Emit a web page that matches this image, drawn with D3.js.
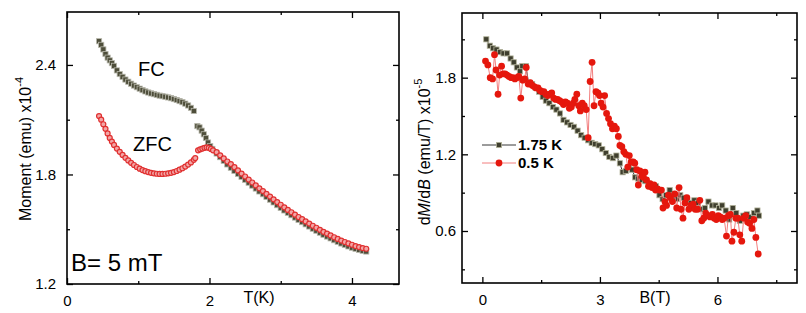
<!DOCTYPE html>
<html lang="en">
<head>
    <title>FC / ZFC and dM/dB</title>
    <meta charset="utf-8"/>
    <script src="https://d3js.org/d3.v7.min.js"></script>
    <style>
        body { margin: 0; background: #fff; }
        text { font-family: "Liberation Sans", Arial, sans-serif; }
        .domain { display: none; }
    </style>
</head>
<body>

<svg width="806" height="313"></svg>

<script type="text/javascript">

    // ---- panel (a): moment vs temperature ----
    const fcT = [0.45, 0.48, 0.51, 0.54, 0.57, 0.60, 0.63, 0.66, 0.70, 0.74, 0.78, 0.82, 0.86, 0.90, 0.94, 0.98,
        1.02, 1.06, 1.10, 1.14, 1.18, 1.22, 1.26, 1.30, 1.34, 1.38, 1.42, 1.46, 1.50, 1.54, 1.58, 1.62, 1.66, 1.70,
        1.74, 1.78, 1.83, 1.86, 1.89, 1.92, 1.95, 1.98, 2.01, 2.04,
        2.10, 2.15, 2.20, 2.25, 2.30, 2.35, 2.40, 2.45, 2.50, 2.55, 2.60, 2.65, 2.70, 2.75, 2.80, 2.85, 2.90, 2.95,
        3.00, 3.05, 3.10, 3.15, 3.20, 3.25, 3.30, 3.35, 3.40, 3.45, 3.50, 3.55, 3.60, 3.65, 3.70, 3.75, 3.80, 3.85,
        3.90, 3.95, 4.00, 4.05, 4.10, 4.15, 4.20];
    const fcM = [2.53, 2.51, 2.485, 2.46, 2.44, 2.425, 2.41, 2.395, 2.37, 2.35, 2.335, 2.32, 2.308, 2.297, 2.287, 2.278,
        2.27, 2.262, 2.255, 2.249, 2.244, 2.240, 2.236, 2.232, 2.229, 2.226, 2.222, 2.218, 2.213, 2.208, 2.202, 2.196,
        2.188, 2.178, 2.165, 2.148, 2.065, 2.058, 2.04, 2.02, 2.00, 1.975, 1.955, 1.94,
        1.915, 1.895, 1.875, 1.855, 1.837, 1.820, 1.803, 1.787, 1.771, 1.755, 1.739, 1.723, 1.707, 1.692, 1.677, 1.662,
        1.647, 1.632, 1.617, 1.603, 1.590, 1.577, 1.564, 1.551, 1.539, 1.527, 1.515, 1.503, 1.492, 1.481, 1.470, 1.460,
        1.450, 1.440, 1.431, 1.422, 1.414, 1.406, 1.399, 1.393, 1.387, 1.382, 1.378];

    const zfcT = [0.45, 0.48, 0.51, 0.54, 0.57, 0.60, 0.63, 0.66, 0.70, 0.74, 0.78, 0.82, 0.86, 0.90, 0.94, 0.98,
        1.02, 1.06, 1.10, 1.14, 1.18, 1.22, 1.26, 1.30, 1.34, 1.38, 1.42, 1.46, 1.50, 1.54, 1.58, 1.62, 1.66, 1.70,
        1.74, 1.78, 1.80, 1.84, 1.87, 1.90, 1.93, 1.96, 1.99, 2.02, 2.05,
        2.10, 2.15, 2.20, 2.25, 2.30, 2.35, 2.40, 2.45, 2.50, 2.55, 2.60, 2.65, 2.70, 2.75, 2.80, 2.85, 2.90, 2.95,
        3.00, 3.05, 3.10, 3.15, 3.20, 3.25, 3.30, 3.35, 3.40, 3.45, 3.50, 3.55, 3.60, 3.65, 3.70, 3.75, 3.80, 3.85,
        3.90, 3.95, 4.00, 4.05, 4.10, 4.15, 4.20];
    const zfcM = [2.12, 2.10, 2.075, 2.05, 2.025, 2.00, 1.98, 1.962, 1.942, 1.924, 1.907, 1.891, 1.877, 1.864, 1.852,
        1.841, 1.832, 1.824, 1.818, 1.813, 1.809, 1.806, 1.804, 1.803, 1.803, 1.804, 1.806, 1.809, 1.813, 1.819, 1.826,
        1.834, 1.843, 1.854, 1.866, 1.880, 1.89, 1.932, 1.938, 1.942, 1.946, 1.948, 1.946, 1.940, 1.932,
        1.922, 1.905, 1.888, 1.871, 1.857, 1.840, 1.822, 1.805, 1.789, 1.772, 1.756, 1.740, 1.724, 1.709, 1.694, 1.679,
        1.664, 1.649, 1.634, 1.620, 1.606, 1.593, 1.580, 1.567, 1.555, 1.543, 1.531, 1.519, 1.508, 1.497, 1.486, 1.476,
        1.466, 1.456, 1.447, 1.438, 1.430, 1.422, 1.415, 1.408, 1.402, 1.397, 1.393];

    const tTicks = [0, 2, 4], tMinor = [1, 3];
    const mTicks = [1.2, 1.8, 2.4], mMinor = [1.5, 2.1];

    // ---- panel (b): dM/dB vs field ----
    const b175 = [0.10, 0.19, 0.27, 0.36, 0.45, 0.54, 0.63, 0.72, 0.80, 0.88, 0.96, 1.02, 1.11, 1.18, 1.27, 1.36,
        1.45, 1.54, 1.62, 1.71, 1.80, 1.89, 1.98, 2.07, 2.16, 2.25, 2.34, 2.43, 2.52, 2.61, 2.70, 2.79, 2.88, 2.97,
        3.06, 3.15, 3.24, 3.33, 3.42, 3.51, 3.58, 3.66, 3.74, 3.82, 3.90, 3.98, 4.07, 4.16, 4.25, 4.34, 4.43, 4.52,
        4.60, 4.69, 4.78, 4.87, 4.96, 5.05, 5.14, 5.23, 5.32, 5.41, 5.50, 5.59, 5.68, 5.77, 5.86, 5.95, 6.04, 6.12,
        6.21, 6.30, 6.39, 6.48, 6.57, 6.66, 6.75, 6.84, 6.93, 7.02, 7.06];
    const d175 = [2.10, 2.05, 2.03, 2.02, 2.00, 1.99, 1.99, 1.95, 1.92, 1.88, 1.85, 1.89, 1.89, 1.76, 1.75, 1.72,
        1.69, 1.65, 1.62, 1.60, 1.57, 1.55, 1.52, 1.47, 1.45, 1.43, 1.415, 1.385, 1.35, 1.33, 1.31, 1.29, 1.28, 1.27,
        1.24, 1.21, 1.18, 1.17, 1.19, 1.13, 1.06, 1.07, 1.10, 1.08, 1.02, 1.01, 1.00, 0.99, 0.97, 0.96, 0.95, 0.88,
        0.85, 0.88, 0.92, 0.86, 0.85, 0.88, 0.86, 0.83, 0.82, 0.84, 0.82, 0.77, 0.78, 0.83, 0.80, 0.80, 0.78, 0.80,
        0.76, 0.69, 0.78, 0.74, 0.68, 0.72, 0.73, 0.71, 0.74, 0.76, 0.72];

    const b05 = [0.08, 0.14, 0.20, 0.26, 0.31, 0.35, 0.40, 0.44, 0.49, 0.53, 0.58, 0.63, 0.68, 0.73, 0.78, 0.83,
        0.88, 0.93, 0.98, 1.03, 1.08, 1.12, 1.17, 1.22, 1.27, 1.32, 1.37, 1.42, 1.47, 1.52, 1.57, 1.62, 1.67, 1.72,
        1.77, 1.82, 1.87, 1.92, 1.97, 2.02, 2.07, 2.12, 2.17, 2.22, 2.27, 2.32, 2.36, 2.41, 2.46, 2.50, 2.55, 2.60,
        2.65, 2.70, 2.75, 2.80, 2.85, 2.90, 2.95, 2.99, 3.03, 3.08, 3.12, 3.17, 3.22, 3.27, 3.32, 3.37, 3.42, 3.47,
        3.51, 3.56, 3.61, 3.66, 3.71, 3.75, 3.80, 3.85, 3.89, 3.94, 3.98, 4.02, 4.07, 4.11, 4.15, 4.19, 4.24, 4.28,
        4.33, 4.38, 4.42, 4.47, 4.52, 4.57, 4.61, 4.66, 4.70, 4.75, 4.80, 4.85, 4.91, 4.96, 5.02, 5.07, 5.12, 5.17,
        5.22, 5.27, 5.32, 5.38, 5.43, 5.49, 5.55, 5.60, 5.65, 5.70, 5.76, 5.81, 5.87, 5.92, 5.97, 6.02, 6.07, 6.12,
        6.17, 6.23, 6.28, 6.33, 6.37, 6.42, 6.47, 6.52, 6.57, 6.62, 6.67, 6.72, 6.77, 6.82, 6.88, 6.93, 6.98, 7.04];
    const d05 = [1.93, 1.90, 1.80, 1.79, 1.98, 1.86, 1.67, 1.82, 1.89, 1.83, 1.83, 1.82, 1.81, 1.80, 1.80, 1.79,
        1.80, 1.81, 1.64, 1.78, 1.79, 1.88, 1.75, 1.76, 1.74, 1.73, 1.72, 1.72, 1.70, 1.69, 1.69, 1.67, 1.66, 1.67,
        1.68, 1.64, 1.63, 1.63, 1.62, 1.61, 1.59, 1.61, 1.60, 1.56, 1.57, 1.60, 1.63, 1.67, 1.58, 1.54, 1.60, 1.58,
        1.55, 1.33, 1.77, 1.92, 1.58, 1.69, 1.68, 1.66, 1.60, 1.57, 1.66, 1.52, 1.48, 1.44, 1.40, 1.42, 1.40, 1.34,
        1.27, 1.26, 1.22, 1.20, 1.10, 1.19, 1.14, 1.14, 1.13, 1.08, 0.96, 1.07, 1.03, 1.02, 1.06, 1.00, 0.95, 0.97,
        0.94, 0.96, 0.92, 0.93, 0.92, 0.92, 0.78, 0.83, 0.80, 0.88, 0.86, 0.83, 0.89, 0.78, 0.94, 0.77, 0.70, 0.82,
        0.86, 0.77, 0.80, 0.81, 0.77, 0.77, 0.84, 0.68, 0.70, 0.74, 0.72, 0.71, 0.73, 0.70, 0.69, 0.72, 0.71, 0.69,
        0.70, 0.56, 0.72, 0.73, 0.52, 0.59, 0.70, 0.70, 0.57, 0.52, 0.70, 0.72, 0.67, 0.66, 0.62, 0.69, 0.55, 0.42];

    const bTicks = [0, 3, 6], bMinor = [1.5, 4.5, 7.5];
    const dTicks = [0.6, 1.2, 1.8], dMinor = [0.3, 0.9, 1.5, 2.1];

    const svg = d3.select("svg");

    // ---- escalas ----
    let xT = d3.scaleLinear().domain([0, 4.66]).range([67, 399]);
    let yM = d3.scaleLinear().domain([1.2, 2.69]).range([284, 12]);

    let xB = d3.scaleLinear().domain([-0.52, 8.03]).range([462, 797]);
    let yD = d3.scaleLinear().domain([0.193, 2.306]).range([283, 13]);

    /**
     * Marco con ticks hacia adentro en los cuatro lados.
     */
    function frame(x, y, xt, xm, yt, ym, yPad) {
        let [x0, x1] = x.range(), [y0, y1] = y.range();
        let g = svg.append("g");

        let axes = [
            {ax: d3.axisBottom(x), tr: [0, y0], labels: true, vals: xt, sz: -6, pad: 11},
            {ax: d3.axisBottom(x), tr: [0, y0], labels: false, vals: xm, sz: -3},
            {ax: d3.axisTop(x), tr: [0, y1], labels: false, vals: xt, sz: -6},
            {ax: d3.axisTop(x), tr: [0, y1], labels: false, vals: xm, sz: -3},
            {ax: d3.axisLeft(y), tr: [x0, 0], labels: true, vals: yt, sz: -6, pad: yPad},
            {ax: d3.axisLeft(y), tr: [x0, 0], labels: false, vals: ym, sz: -3},
            {ax: d3.axisRight(y), tr: [x1, 0], labels: false, vals: yt, sz: -6},
            {ax: d3.axisRight(y), tr: [x1, 0], labels: false, vals: ym, sz: -3}
        ];
        axes.forEach(function (a) {
            let ag = g.append("g")
                .attr("transform", "translate(" + a.tr[0] + "," + a.tr[1] + ")")
                .call(a.ax.tickValues(a.vals).tickSize(a.sz).tickPadding(a.labels ? a.pad : 0)
                    .tickFormat(a.labels ? d3.format("") : ""));
            ag.selectAll(".tick line").attr("stroke", "#000").attr("stroke-width", 1.3);
            ag.selectAll("text").attr("fill", "#000").style("font-size", "15px")
                .style("font-family", "Liberation Sans, Arial, sans-serif");
        });

        g.append("rect")
            .attr("x", x0).attr("y", y1)
            .attr("width", x1 - x0).attr("height", y0 - y1)
            .attr("fill", "none").attr("stroke", "#000").attr("stroke-width", 1.6);
        return g;
    }

    // ---- panel izquierdo ----
    frame(xT, yM, tTicks, tMinor, mTicks, mMinor, 11);

    let fcData = fcT.map((t, i) => ({x: t, y: fcM[i]}));
    let zfcData = zfcT.map((t, i) => ({x: t, y: zfcM[i]}));

    svg.append("g").selectAll("rect")
        .data(fcData).enter().append("rect")
        .attr("x", d => xT(d.x) - 2.6).attr("y", d => yM(d.y) - 2.6)
        .attr("width", 5.2).attr("height", 5.2)
        .attr("fill", "#4e4e3a").attr("stroke", "#b9b9ad").attr("stroke-width", 0.8);

    svg.append("g").selectAll("circle")
        .data(zfcData).enter().append("circle")
        .attr("cx", d => xT(d.x)).attr("cy", d => yM(d.y)).attr("r", 2.5)
        .attr("fill", "#f2a6a6").attr("stroke", "#e03030").attr("stroke-width", 1.2);

    svg.append("text").attr("x", 138).attr("y", 76).style("font-size", "20px").text("FC");
    svg.append("text").attr("x", 133).attr("y", 151).style("font-size", "20px").text("ZFC");
    svg.append("text").attr("x", 71).attr("y", 271).style("font-size", "24px").text("B= 5 mT");
    svg.append("text").attr("x", 259).attr("y", 303).attr("text-anchor", "middle")
        .style("font-size", "16px").text("T(K)");

    let ylab1 = svg.append("text")
        .attr("transform", "translate(31,149) rotate(-90)")
        .attr("text-anchor", "middle").style("font-size", "16px");
    ylab1.append("tspan").text("Moment (emu) x10");
    ylab1.append("tspan").attr("dy", -8).style("font-size", "11px").text("-4");

    // ---- panel derecho ----
    frame(xB, yD, bTicks, bMinor, dTicks, dMinor, 6);

    let data175 = b175.map((b, i) => ({x: b, y: d175[i]}));
    let data05 = b05.map((b, i) => ({x: b, y: d05[i]}));

    let lineB = d3.line().x(d => xB(d.x)).y(d => yD(d.y));

    svg.append("path").attr("d", lineB(data175))
        .attr("fill", "none").attr("stroke", "#222").attr("stroke-width", 0.9);
    svg.append("g").selectAll("rect")
        .data(data175).enter().append("rect")
        .attr("x", d => xB(d.x) - 2.6).attr("y", d => yD(d.y) - 2.6)
        .attr("width", 5.2).attr("height", 5.2)
        .attr("fill", "#3f3f2e").attr("stroke", "#b4b49c").attr("stroke-width", 0.8);

    svg.append("path").attr("d", lineB(data05))
        .attr("fill", "none").attr("stroke", "#f07070").attr("stroke-width", 0.9);
    svg.append("g").selectAll("circle")
        .data(data05).enter().append("circle")
        .attr("cx", d => xB(d.x)).attr("cy", d => yD(d.y)).attr("r", 3.4)
        .attr("fill", "#e5170d");

    // leyenda
    let leg = svg.append("g");
    leg.append("line").attr("x1", 482).attr("x2", 516).attr("y1", 145).attr("y2", 145)
        .attr("stroke", "#222").attr("stroke-width", 0.9);
    leg.append("rect").attr("x", 496.4).attr("y", 142.4).attr("width", 5.2).attr("height", 5.2)
        .attr("fill", "#3f3f2e").attr("stroke", "#b4b49c").attr("stroke-width", 0.8);
    leg.append("text").attr("x", 518).attr("y", 150).style("font-size", "15px")
        .style("font-weight", "bold").text("1.75 K");
    leg.append("line").attr("x1", 482).attr("x2", 516).attr("y1", 163).attr("y2", 163)
        .attr("stroke", "#f07070").attr("stroke-width", 0.9);
    leg.append("circle").attr("cx", 499).attr("cy", 163).attr("r", 3.4).attr("fill", "#e5170d");
    leg.append("text").attr("x", 518).attr("y", 168).style("font-size", "15px")
        .style("font-weight", "bold").text("0.5 K");

    svg.append("text").attr("x", 655).attr("y", 303).attr("text-anchor", "middle")
        .style("font-size", "16px").text("B(T)");

    let ylab2 = svg.append("text")
        .attr("transform", "translate(430,152) rotate(-90)")
        .attr("text-anchor", "middle").style("font-size", "16px");
    ylab2.append("tspan").text("d");
    ylab2.append("tspan").style("font-style", "italic").text("M");
    ylab2.append("tspan").text("/d");
    ylab2.append("tspan").style("font-style", "italic").text("B");
    ylab2.append("tspan").text(" (emu/T) x10");
    ylab2.append("tspan").attr("dy", -8).style("font-size", "11px").text("-5");

</script>
</body>
</html>
